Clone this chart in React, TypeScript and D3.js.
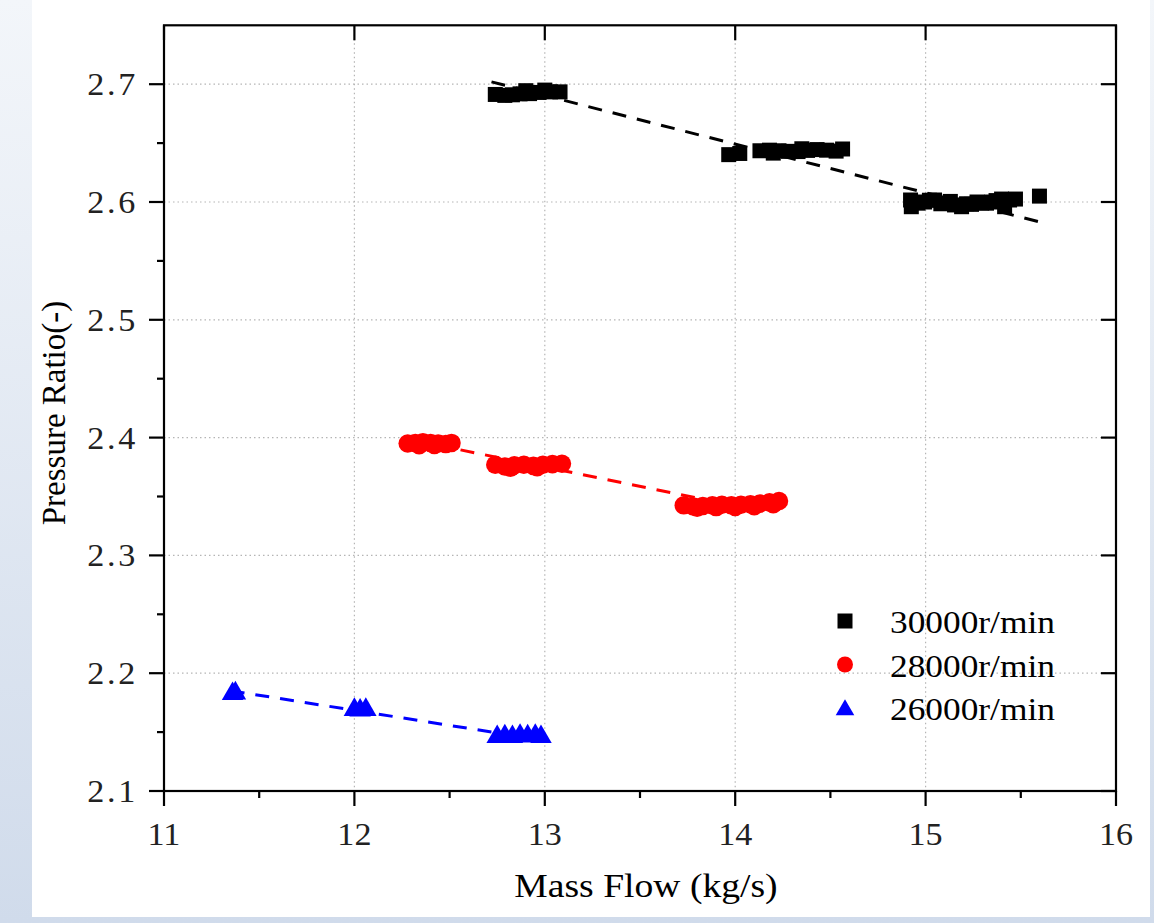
import React from "react";
import * as d3 from "d3";

// ---------- data ----------
const seriesNames = ["30000r/min", "28000r/min", "26000r/min"];

const s30x = [12.74, 12.79, 12.83, 12.87, 12.92, 12.97, 13.03, 13.08, 12.9, 13.0,
  13.966, 14.024, 14.13, 14.18, 14.23, 14.28, 14.33, 14.38, 14.43, 14.48, 14.53, 14.564, 14.2, 14.35,
  14.921, 14.925, 14.96, 14.995, 15.02, 15.047, 15.08, 15.1, 15.13, 15.152, 15.189, 15.215, 15.241, 15.27, 15.294, 15.32, 15.346, 15.37, 15.399, 15.415, 15.441, 15.472, 15.598];
const s30y = [2.6913, 2.6905, 2.691, 2.6918, 2.692, 2.693, 2.6935, 2.6935, 2.6945, 2.695,
  2.6402, 2.6412, 2.6435, 2.644, 2.6435, 2.643, 2.6428, 2.6438, 2.6445, 2.644, 2.6432, 2.645, 2.6415, 2.6452,
  2.6017, 2.596, 2.599, 2.6, 2.6015, 2.6017, 2.5985, 2.5992, 2.6005, 2.5975, 2.596, 2.5985, 2.598, 2.6, 2.5992, 2.599, 2.6, 2.6012, 2.6025, 2.596, 2.6017, 2.6025, 2.605];

const s28x = [12.28, 12.32, 12.36, 12.40, 12.44, 12.48, 12.51, 12.34, 12.42,
  12.74, 12.79, 12.84, 12.89, 12.94, 12.99, 13.04, 13.09, 12.82, 12.96,
  13.73, 13.78, 13.83, 13.88, 13.93, 13.98, 14.03, 14.08, 14.13, 14.18, 14.2, 14.23, 13.8, 13.9, 14.0, 14.1];
const s28y = [2.395, 2.3955, 2.396, 2.3955, 2.395, 2.3945, 2.3955, 2.3935, 2.3938,
  2.377, 2.3755, 2.3765, 2.377, 2.376, 2.377, 2.3775, 2.3778, 2.3745, 2.3748,
  2.3425, 2.3415, 2.342, 2.3425, 2.343, 2.3425, 2.343, 2.3435, 2.344, 2.345, 2.3435, 2.3462, 2.3405, 2.341, 2.3412, 2.3418];

const s26x = [11.36, 11.375, 12.0, 12.03, 12.06, 12.75, 12.79, 12.83, 12.87, 12.91, 12.95, 12.98];
const s26y = [2.1825, 2.183, 2.169, 2.1685, 2.169, 2.146, 2.1465, 2.146, 2.147, 2.1465, 2.147, 2.146];

// fitted trend lines (end points)
const fit30x = [12.72, 15.6];
const fit30y = [2.702, 2.583];
const fit28x = [12.3, 14.05];
const fit28y = [2.398, 2.3406];
const fit26x = [11.35, 12.95];
const fit26y = [2.1851, 2.1442];

const xTicks = [11, 12, 13, 14, 15, 16];
const xTickLabels = ["11", "12", "13", "14", "15", "16"];
const xMinorTicks = [11.5, 12.5, 13.5, 14.5, 15.5];
const yTicks = [2.1, 2.2, 2.3, 2.4, 2.5, 2.6, 2.7];
const yTickLabels = ["2.1", "2.2", "2.3", "2.4", "2.5", "2.6", "2.7"];
const yMinorTicks = [2.15, 2.25, 2.35, 2.45, 2.55, 2.65];

const xTitle = "Mass Flow (kg/s)";
const yTitle = "Pressure Ratio(-)";

// ---------- layout ----------
const W = 1154, H = 923;
const L = 164, R = 1116, T = 25.3, B = 791;
const FONT = "'Liberation Serif', 'Times New Roman', serif";
const SX = 1.14;

export default function App() {
  const x = d3.scaleLinear().domain([11, 16]).range([L, R]);
  const y = d3.scaleLinear().domain([2.1, 2.75]).range([B, T]);

  const sq = d3.symbol().type(d3.symbolSquare).size(225)()!;
  const ci = d3.symbol().type(d3.symbolCircle).size(270)()!;
  const tr = d3.symbol().type(d3.symbolTriangle).size(200)()!;
  const sqL = d3.symbol().type(d3.symbolSquare).size(225)()!;
  const ciL = d3.symbol().type(d3.symbolCircle).size(201)()!;
  const trL = d3.symbol().type(d3.symbolTriangle).size(150)()!;

  const line = d3.line<[number, number]>().x(d => x(d[0])).y(d => y(d[1]));
  const fits = [
    { xs: fit30x, ys: fit30y, c: "#000000" },
    { xs: fit28x, ys: fit28y, c: "#ff0000" },
    { xs: fit26x, ys: fit26y, c: "#0000ff" },
  ];
  const series = [
    { xs: s30x, ys: s30y, c: "#000000", p: sq, pl: sqL },
    { xs: s28x, ys: s28y, c: "#ff0000", p: ci, pl: ciL },
    { xs: s26x, ys: s26y, c: "#0000ff", p: tr, pl: trL },
  ];

  return (
    <svg width={W} height={H} style={{ position: "absolute", left: 0, top: 0 }}>
      <defs>
        <linearGradient id="bg" x1="0" y1="0" x2="0" y2="1">
          <stop offset="0" stopColor="#f3f6fa" />
          <stop offset="1" stopColor="#d0dbeb" />
        </linearGradient>
      </defs>
      <rect x={0} y={0} width={W} height={H} fill="url(#bg)" />
      <rect x={32} y={0} width={1118} height={917} fill="#ffffff" />

      {/* grid */}
      {xTicks.slice(1, -1).map(t => (
        <line key={"gx" + t} x1={x(t)} x2={x(t)} y1={T} y2={B} stroke="#b5b5b5" strokeWidth={1.2} strokeDasharray="1.5,3" />
      ))}
      {yTicks.slice(1).map(t => (
        <line key={"gy" + t} x1={L} x2={R} y1={y(t)} y2={y(t)} stroke="#b5b5b5" strokeWidth={1.2} strokeDasharray="1.5,3" />
      ))}

      {/* fit lines */}
      {fits.map((f, i) => (
        <path key={"f" + i} d={line(f.xs.map((v, j) => [v, f.ys[j]] as [number, number]))!}
          fill="none" stroke={f.c} strokeWidth={3} strokeDasharray="14,11" />
      ))}

      {/* markers */}
      {series.map((s, i) => (
        <g key={"s" + i} fill={s.c}>
          {s.xs.map((v, j) => (
            <path key={j} d={s.p} transform={`translate(${x(v)},${y(s.ys[j])})`} />
          ))}
        </g>
      ))}

      {/* frame */}
      <rect x={L} y={T} width={R - L} height={B - T} fill="none" stroke="#000" strokeWidth={2.2} />

      {/* ticks */}
      {xTicks.map(t => (
        <g key={"xt" + t}>
          <line x1={x(t)} x2={x(t)} y1={B} y2={B + 15} stroke="#000" strokeWidth={2.2} />
          <line x1={x(t)} x2={x(t)} y1={T} y2={T + 15} stroke="#000" strokeWidth={2.2} />
        </g>
      ))}
      {xMinorTicks.map(t => (
        <line key={"xm" + t} x1={x(t)} x2={x(t)} y1={B} y2={B + 7} stroke="#000" strokeWidth={2.2} />
      ))}
      {yTicks.map(t => (
        <g key={"yt" + t}>
          <line x1={L - 15} x2={L} y1={y(t)} y2={y(t)} stroke="#000" strokeWidth={2.2} />
          <line x1={R - 15} x2={R} y1={y(t)} y2={y(t)} stroke="#000" strokeWidth={2.2} />
        </g>
      ))}
      {yMinorTicks.map(t => (
        <line key={"ym" + t} x1={L - 7} x2={L} y1={y(t)} y2={y(t)} stroke="#000" strokeWidth={2.2} />
      ))}

      {/* tick labels */}
      {xTicks.map((t, i) => (
        <text key={"xl" + t} transform={`translate(${x(t)},${845}) scale(1.1,1)`} textAnchor="middle"
          fontFamily={FONT} fontSize={31} fill="#222">{xTickLabels[i]}</text>
      ))}
      {yTicks.map((t, i) => (
        <text key={"yl" + t} transform={`translate(${138},${y(t) + 11}) scale(1.1,1)`} textAnchor="end"
          fontFamily={FONT} fontSize={31} fill="#222" letterSpacing={2.5}>{yTickLabels[i]}</text>
      ))}

      {/* axis titles */}
      <text transform={`translate(${646},${897}) scale(${SX},1)`} textAnchor="middle" fontFamily={FONT} fontSize={33} fill="#000">{xTitle}</text>
      <text transform={`translate(${65},${413}) rotate(-90)`} textAnchor="middle" fontFamily={FONT} fontSize={33} fill="#000">{yTitle}</text>

      {/* legend */}
      {series.map((s, i) => (
        <g key={"lg" + i}>
          <path d={s.pl} fill={s.c} transform={`translate(${845},${621 + i * 43.5 + (i === 2 ? 2 : 0)})`} />
          <text transform={`translate(${890},${633 + i * 43.5}) scale(${SX},1)`} fontFamily={FONT} fontSize={31} fill="#000">{seriesNames[i]}</text>
        </g>
      ))}
    </svg>
  );
}
